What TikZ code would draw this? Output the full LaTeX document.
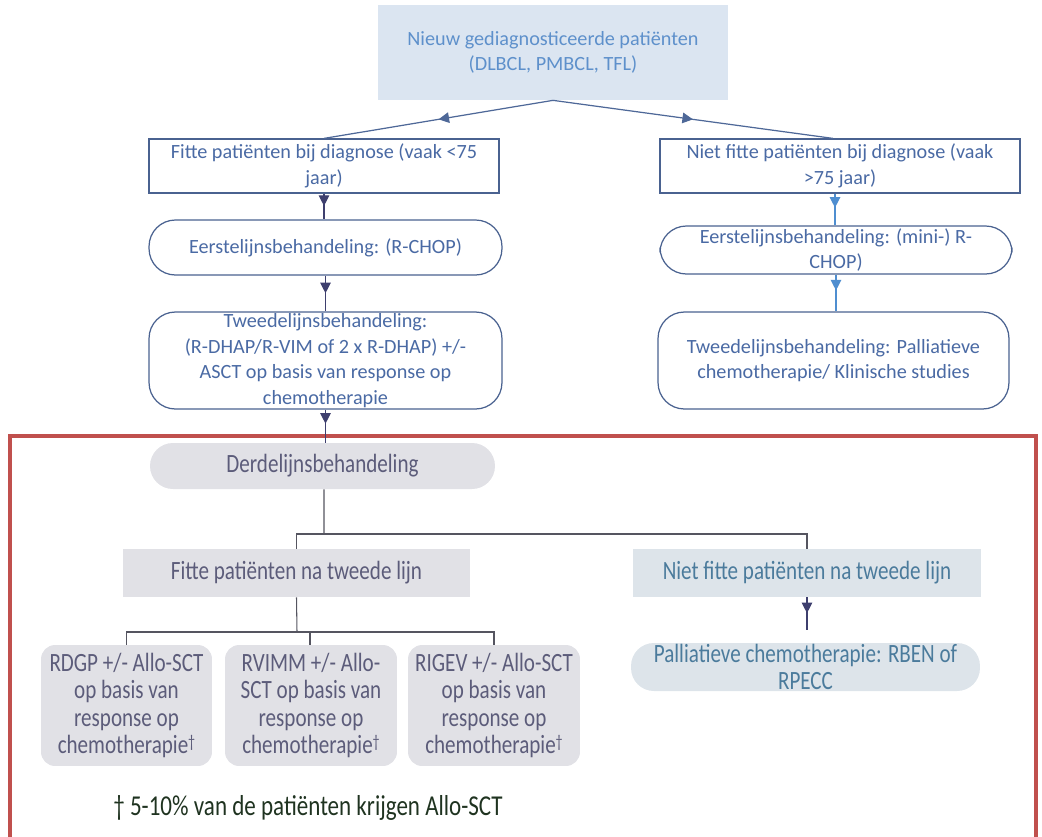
\documentclass[tikz,border=0pt]{standalone}
\usepackage{fontspec}
\setmainfont{Carlito}
\newfontfamily\condfont{Carlito}[FakeStretch=0.8]
\usetikzlibrary{arrows.meta,decorations.markings}
\definecolor{topfill}{HTML}{DBE5F1}
\definecolor{toptxt}{HTML}{5E90CB}
\definecolor{bluetxt}{HTML}{4A6AA4}
\definecolor{bord}{HTML}{4A6290}
\definecolor{navy}{HTML}{3E3F6E}
\definecolor{lblue}{HTML}{4F8ED0}
\definecolor{topline}{HTML}{4E6898}
\definecolor{tophead}{HTML}{3F6FC0}
\definecolor{frame}{HTML}{C0504D}
\definecolor{grayfill}{HTML}{E1E1E6}
\definecolor{graytxt}{HTML}{5C5C7A}
\definecolor{bluefill}{HTML}{DDE4EA}
\definecolor{tealtxt}{HTML}{4B7B9C}
\definecolor{conn}{HTML}{555560}
\definecolor{foot}{HTML}{1F3320}
\newcommand{\dg}{\raisebox{0.45ex}{\fontsize{10}{10}\selectfont †}}
\tikzset{
  upfont/.style={font=\fontsize{11.5}{14.6}\selectfont},
  lowfont/.style={font=\condfont\fontsize{15}{15.6}\selectfont},
  topbox/.style={fill=topfill, text=toptxt, align=center, inner sep=0pt, upfont},
  rectbox/.style={draw=bord, line width=0.7pt, fill=white, text=bluetxt, align=center, inner sep=0pt, upfont},
  roundbox/.style={rectbox, rounded corners=15pt},
  graybox/.style={fill=grayfill, text=graytxt, align=center, inner sep=0pt, lowfont},
  bluebox/.style={fill=bluefill, text=tealtxt, align=center, inner sep=0pt, lowfont},
  headat/.style={postaction={decorate}, decoration={markings, mark=at position #1 with {\arrow{Triangle[length=6pt,width=6pt]}}}},
  link/.style={draw=conn, line width=0.6pt},
}
\begin{document}
\begin{tikzpicture}[x=0.02cm,y=-0.02cm]
\useasboundingbox (0,0) rectangle (1042,836);
% upper part
\node[topbox, minimum width=7cm, minimum height=1.9cm] (top) at (553,52.5) {Nieuw gediagnosticeerde patiënten\\(DLBCL, PMBCL, TFL)};
\node[rectbox, minimum width=7cm, minimum height=1.08cm] (fit1) at (324,166) {Fitte patiënten bij diagnose (vaak <75\\jaar)};
\node[rectbox, minimum width=7.2cm, minimum height=1.08cm] (nfit1) at (840,166) {Niet fitte patiënten bij diagnose (vaak\\>75 jaar)};
\node[roundbox, minimum width=7.06cm, minimum height=1.1cm] (e1) at (325.5,247.5) {Eerstelijnsbehandeling: (R-CHOP)};
\node[roundbox, minimum width=7.04cm, minimum height=0.96cm] (e2) at (836,250) {Eerstelijnsbehandeling: (mini-) R-\\CHOP)};
\node[roundbox, minimum width=7.06cm, minimum height=1.94cm] (t1) at (325.5,360.5) {Tweedelijnsbehandeling:\\(R-DHAP/R-VIM of 2 x R-DHAP) +/-\\ASCT op basis van response op\\chemotherapie};
\node[roundbox, minimum width=7.02cm, minimum height=1.94cm] (t2) at (833.5,360.5) {Tweedelijnsbehandeling: Palliatieve\\chemotherapie/ Klinische studies};
% top connectors
\draw[topline, line width=0.7pt, headat=0.5] (top.south) -- (fit1.north);
\draw[topline, line width=0.7pt, headat=0.5] (top.south) -- ([xshift=-7*0.02cm]nfit1.north);
\draw[navy, line width=0.7pt, headat=7pt] (fit1.south) -- (fit1.south |- e1.north);
\draw[navy, line width=0.7pt, headat=10pt] (e1.south) -- (e1.south |- t1.north);
\draw[lblue, line width=0.7pt, headat=8pt] ([xshift=-5*0.02cm]nfit1.south) -- ([xshift=-5*0.02cm]nfit1.south |- e2.north);
\draw[lblue, line width=0.7pt, headat=9pt] (e2.south) -- (e2.south |- t2.north);
% frame
\draw[frame, line width=2.4pt] (10,436) rectangle (1036,870);
% lower part
\node[graybox, rounded corners=13pt, minimum width=6.9cm, minimum height=0.92cm] (d) at (322.5,466) {Derdelijnsbehandeling};
\draw[navy, line width=0.7pt, headat=8pt] (t1.south) -- (t1.south |- d.north);
\node[graybox, minimum width=6.94cm, minimum height=0.96cm] (f2) at (296.5,573) {Fitte patiënten na tweede lijn};
\node[bluebox, minimum width=6.96cm, minimum height=0.96cm] (nf2) at (807,573) {Niet fitte patiënten na tweede lijn};
\node[bluebox, rounded corners=13pt, minimum width=6.98cm, minimum height=0.96cm] (p) at (805.5,667) {Palliatieve chemotherapie: RBEN of\\RPECC};
\node[graybox, rounded corners=8pt, minimum width=3.42cm, minimum height=2.42cm] (b1) at (126.5,705.5) {RDGP +/- Allo-SCT\\op basis van\\response op\\chemotherapie\dg};
\node[graybox, rounded corners=8pt, minimum width=3.44cm, minimum height=2.42cm] (b2) at (311,705.5) {RVIMM +/- Allo-\\SCT op basis van\\response op\\chemotherapie\dg};
\node[graybox, rounded corners=8pt, minimum width=3.44cm, minimum height=2.42cm] (b3) at (494,705.5) {RIGEV +/- Allo-SCT\\op basis van\\response op\\chemotherapie\dg};
\node[text=foot, font=\condfont\fontsize{16.4}{18}\selectfont, anchor=center] (fn) at (308,808) {† 5-10\% van de patiënten krijgen Allo-SCT};
% lower connectors
\coordinate (j1) at (324,534);
\draw[link] ([xshift=1.5*0.02cm]d.south) -- (j1);
\draw[link] (f2.north) -- (f2.north |- j1) -| (nf2.north);
\draw[navy, line width=0.7pt, headat=9pt, shorten >=7pt] (nf2.south) -- (nf2.south |- p.north);
\coordinate (j2) at (297,632);
\draw[link] (f2.south) -- (j2);
\draw[link] (b1.north) -- (b1.north |- j2) -| (b3.north);
\draw[link] ([xshift=-1*0.02cm]b2.north) -- ([xshift=-1*0.02cm]b2.north |- j2);
\end{tikzpicture}
\end{document}
